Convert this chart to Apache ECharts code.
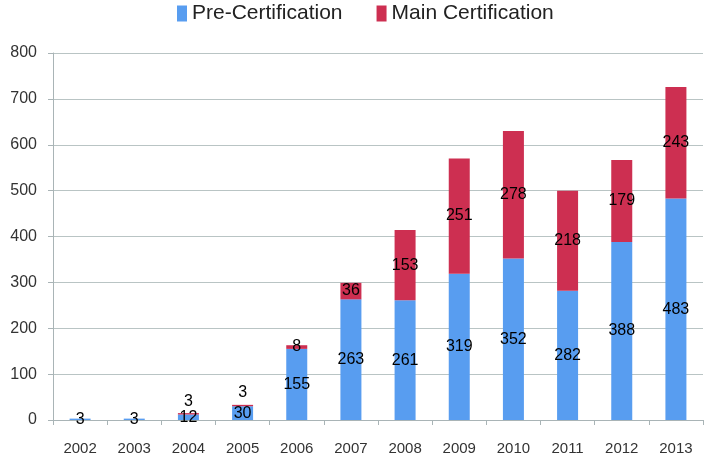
<!DOCTYPE html>
<html>
<head>
<meta charset="utf-8">
<script src="https://cdn.jsdelivr.net/npm/echarts@6/dist/echarts.min.js"></script>
<style>
  html, body { margin: 0; padding: 0; background: #fff; }
  #chart { width: 710px; height: 456px; }
</style>
</head>
<body>
<div id="chart"></div>
<script>
const years = ['2002', '2003', '2004', '2005', '2006', '2007', '2008', '2009', '2010', '2011', '2012', '2013']
const preCert = [3, 3, 12, 30, 155, 263, 261, 319, 352, 282, 388, 483]
const mainCert = [0, 0, 3, 3, 8, 36, 153, 251, 278, 218, 179, 243]
const yTicks = [0, 100, 200, 300, 400, 500, 600, 700, 800]

const font = '"Liberation Sans", sans-serif'

// tiny red segments get their label on top, like the original
const mainData = mainCert.map(function (v) {
  if (v > 0 && v < 5) {
    return { value: v, label: { position: 'top', distance: 4 } }
  }
  return v
})

const chart = echarts.init(document.getElementById('chart'), null, { renderer: 'canvas' })
chart.setOption({
  animation: false,
  legend: {
    top: -2,
    left: 172,
    itemWidth: 10,
    itemHeight: 16,
    itemGap: 34,
    icon: 'rect',
    textStyle: { fontFamily: font, fontSize: 21, color: '#222' },
    data: ['Pre-Certification', 'Main Certification']
  },
  grid: { left: 53, right: 7, top: 53, bottom: 36 },
  xAxis: {
    type: 'category',
    data: years,
    axisLine: { lineStyle: { color: '#a9b4b6' } },
    axisTick: { show: true, length: 5, lineStyle: { color: '#a9b4b6' } },
    axisLabel: { fontFamily: font, fontSize: 15, color: '#333', margin: 21 }
  },
  yAxis: {
    type: 'value',
    min: yTicks[0],
    max: yTicks[yTicks.length - 1],
    interval: 100,
    axisLine: { show: true, lineStyle: { color: '#a9b4b6' } },
    axisTick: { show: true, length: 5, lineStyle: { color: '#a9b4b6' } },
    splitLine: { lineStyle: { color: '#b9c4c4' } },
    axisLabel: { fontFamily: font, fontSize: 16, color: '#333', margin: 16 }
  },
  series: [
    {
      name: 'Pre-Certification',
      type: 'bar',
      stack: 'total',
      barWidth: 21,
      itemStyle: { color: '#589df0' },
      label: {
        show: true,
        position: 'inside',
        fontFamily: font,
        fontSize: 16,
        color: '#000'
      },
      data: preCert
    },
    {
      name: 'Main Certification',
      type: 'bar',
      stack: 'total',
      barWidth: 21,
      itemStyle: { color: '#cd2f51' },
      label: {
        show: true,
        position: 'inside',
        fontFamily: font,
        fontSize: 16,
        color: '#000',
        formatter: function (p) { return p.value ? p.value : '' }
      },
      data: mainData
    }
  ]
})
</script>
</body>
</html>
